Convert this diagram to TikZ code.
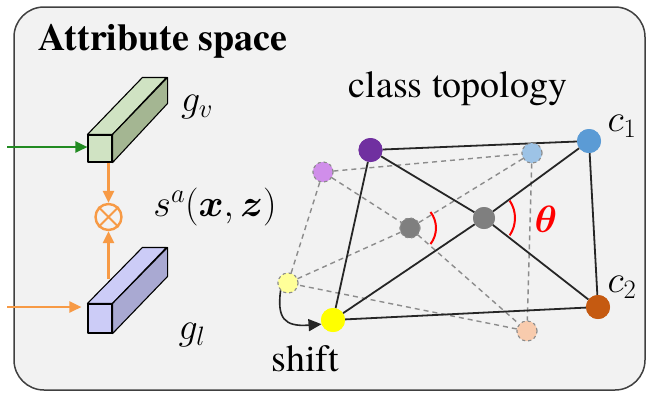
\RequirePackage{fix-cm}
\documentclass[tikz,border=0pt]{standalone}
\usepackage{fontspec}
\setmainfont{TeX Gyre Termes}
\usepackage{bm}
\usetikzlibrary{arrows.meta}
\definecolor{bgfill}{HTML}{F2F2F2}
\definecolor{frameC}{HTML}{404040}
\definecolor{gfront}{HTML}{D0E3C3}
\definecolor{gside}{HTML}{A4B692}
\definecolor{pfront}{HTML}{CCCCF7}
\definecolor{pside}{HTML}{A9A9D2}
\definecolor{arrG}{HTML}{228B22}
\definecolor{arrO}{HTML}{F79A45}
\definecolor{cPurple}{HTML}{7030A0}
\definecolor{cBlue}{HTML}{5B9BD5}
\definecolor{cBrown}{HTML}{C55A11}
\definecolor{cYellow}{HTML}{FFFF00}
\definecolor{cGray}{HTML}{7F7F7F}
\definecolor{lPurple}{HTML}{D08EEA}
\definecolor{lBlue}{HTML}{9DC3E6}
\definecolor{lYellow}{HTML}{FFFF99}
\definecolor{lPeach}{HTML}{F8CBAD}
\definecolor{dashC}{HTML}{8C8C8C}
\begin{document}
\begin{tikzpicture}[x=1pt,y=-1pt,
  font=\fontsize{38}{40}\selectfont,
  faceline/.style={draw=black,line width=1.1pt,line join=round},
  frontface/.style={faceline,inner sep=0pt,minimum width=24pt},
  solidpt/.style={circle,inner sep=0pt,minimum size=24pt},
  dashpt/.style={circle,inner sep=0pt,minimum size=20pt,draw=dashC,dashed,line width=1pt},
  solidedge/.style={draw=black!85,line width=1.8pt},
  dashedge/.style={draw=dashC,line width=1.4pt,dash pattern=on 5pt off 4pt},
  oline/.style={draw=arrO,line width=2.4pt},
  oarrow/.style={oline,-{Triangle[length=12pt,width=11pt]}},
  garrow/.style={draw=arrG,line width=2.4pt,-{Triangle[length=12pt,width=11pt]}},
  anglearc/.style={draw=red,line width=2pt},
  lbl/.style={inner sep=0pt}
]
\useasboundingbox (0,0) rectangle (646,392);
\draw[fill=bgfill,draw=frameC,line width=1.5pt,rounded corners=30pt] (14,7) rectangle (645,390);

% title texts
\node[lbl,anchor=base west,font=\fontsize{38}{40}\selectfont\bfseries] (title) at (38,50) {Attribute space};
\node[lbl,anchor=base] (topo) at (458,97) {class topology};

% ---- green cuboid g_v
\node[frontface,fill=gfront,minimum height=27pt] (gv) at (100,148.5) {};
\filldraw[faceline,fill=gfront] (gv.north west) -- ++(55,-57) -- ++(24,0) -- (gv.north east) -- cycle;
\filldraw[faceline,fill=gside] (gv.north east) -- ++(55,-57) -- ++(0,26) -- (gv.south east) -- cycle;
\node[lbl] (gvl) at (197,107) {$g_v$};

% ---- purple cuboid g_l
\node[frontface,fill=pfront,minimum height=29pt] (gl) at (100,318.5) {};
\filldraw[faceline,fill=pfront] (gl.north west) -- ++(55,-56) -- ++(24,0) -- (gl.north east) -- cycle;
\filldraw[faceline,fill=pside] (gl.north east) -- ++(55,-56) -- ++(0,29) -- (gl.south east) -- cycle;
\node[lbl] (gll) at (192,335) {$g_l$};

% ---- otimes
\node[circle,oline,inner sep=0pt,minimum size=26pt] (ot) at (108.5,217) {};
\draw[oline,line width=2pt] (ot.45) -- (ot.225) (ot.135) -- (ot.315);
\node[lbl] (sa) at (215,207) {$s^{a}(\bm{x},\bm{z})$};

% arrows on the left
\coordinate (gin) at (7,147);
\draw[garrow] (gin) -- (gin -| gv.west);
\coordinate (lin) at (7,307);
\draw[oarrow] (lin) -- ([xshift=-6pt]lin -| gl.west);
\draw[oarrow] (ot.north |- gv.south) -- (ot.north);
\coordinate (gltop) at (108.5,279);
\draw[oarrow] (gltop) -- (ot.south);

% ---- dashed (previous) topology
\node[dashpt,fill=lPurple] (lP) at (323,172) {};
\node[dashpt,fill=lBlue] (lB) at (532,153) {};
\node[dashpt,fill=cGray] (lG) at (410,228) {};
\node[dashpt,fill=lYellow] (lY) at (288,283) {};
\node[dashpt,fill=lPeach] (lO) at (527,331) {};

% ---- solid topology positions
\coordinate (Pc) at (370.5,150);
\coordinate (Bc) at (589,141);
\coordinate (Oc) at (598,307);
\coordinate (Yc) at (333,320);
\coordinate (Gc) at (484,218);

\draw[dashedge] (lP) -- (lB) -- (lO) -- (lY) -- (lP);
\draw[dashedge] (lP) -- (lG) -- (lO);
\draw[dashedge] (lY) -- (lG) -- (lB);

\node[solidpt,fill=cPurple] (P) at (Pc) {};
\node[solidpt,fill=cBlue] (B) at (Bc) {};
\node[solidpt,fill=cBrown] (O) at (Oc) {};
\node[solidpt,fill=cYellow] (Y) at (Yc) {};
\node[solidpt,fill=cGray,minimum size=22pt] (G) at (Gc) {};

\draw[solidedge] (P) -- (B) -- (O) -- (Y) -- (P);
\draw[solidedge] (P) -- (G) -- (O);
\draw[solidedge] (Y) -- (G) -- (B);

% redraw dots over the lines
\node[dashpt,fill=lPurple] at (lP) {};
\node[dashpt,fill=lBlue] at (lB) {};
\node[dashpt,fill=cGray] at (lG) {};
\node[dashpt,fill=lYellow] at (lY) {};
\node[dashpt,fill=lPeach] at (lO) {};
\node[solidpt,fill=cPurple] at (Pc) {};
\node[solidpt,fill=cBlue] at (Bc) {};
\node[solidpt,fill=cBrown] at (Oc) {};
\node[solidpt,fill=cYellow] at (Yc) {};
\node[solidpt,fill=cGray,minimum size=22pt] at (Gc) {};

% angle arcs
\draw[anglearc] (Gc) ++(-34:31) arc[start angle=-34,end angle=34,radius=31];
\draw[anglearc] (410,228) ++(-38:26) arc[start angle=-38,end angle=38,radius=26];
\node[lbl,text=red] (theta) at (546,219) {$\bm{\theta}$};

% labels c1 c2
\node[lbl] (c1) at (622,126) {$c_1$};
\node[lbl] (c2) at (622,287) {$c_2$};

% shift arrow
\draw[draw=black!85,line width=1.6pt,-{Triangle[length=13pt,width=12pt]}]
  (lY.225) .. controls (277,318) and (284,327) .. (Y.200);
\node[lbl,anchor=base] (shift) at (305,371) {shift};
\end{tikzpicture}
\end{document}
